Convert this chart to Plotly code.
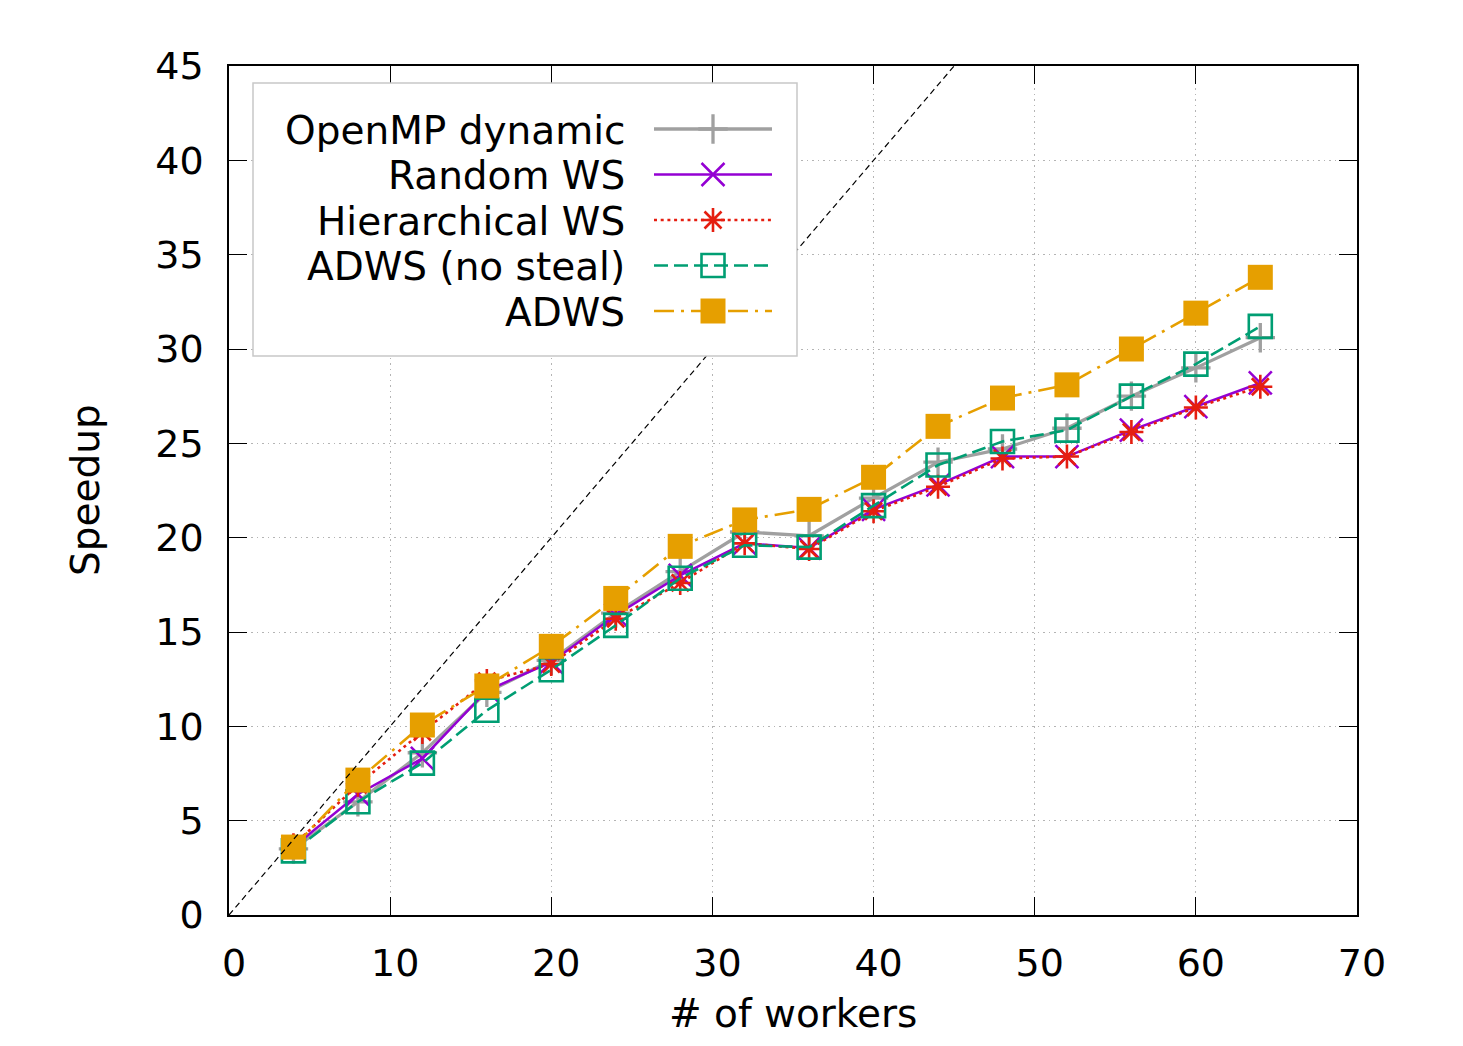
import plotly.graph_objects as go

# ---------------- data ----------------
workers = [4, 8, 12, 16, 20, 24, 28, 32, 36, 40, 44, 48, 52, 56, 60, 64]
openmp_dynamic = [3.5, 6.0, 8.6, 11.8, 13.5, 16.0, 18.2, 20.3, 20.1, 22.1, 24.0, 24.7, 25.8, 27.5, 29.0, 30.6]
random_ws = [3.6, 6.4, 8.3, 11.9, 13.4, 15.9, 18.0, 19.7, 19.45, 21.5, 22.8, 24.3, 24.3, 25.7, 26.95, 28.2]
hierarchical_ws = [3.7, 6.9, 9.7, 12.4, 13.3, 15.7, 17.6, 19.7, 19.4, 21.4, 22.7, 24.2, 24.3, 25.6, 26.9, 28.0]
adws_no_steal = [3.4, 6.0, 8.05, 10.85, 13.0, 15.35, 17.85, 19.6, 19.5, 21.7, 23.85, 25.1, 25.7, 27.5, 29.2, 31.2]
adws = [3.6, 7.15, 10.07, 12.14, 14.24, 16.78, 19.54, 20.94, 21.5, 23.2, 25.9, 27.4, 28.1, 30.0, 31.9, 33.8]

series_names = ["OpenMP dynamic", "Random WS", "Hierarchical WS", "ADWS (no steal)", "ADWS"]
x_ticks = [0, 10, 20, 30, 40, 50, 60, 70]
y_ticks = [0, 5, 10, 15, 20, 25, 30, 35, 40, 45]
x_title = "# of workers"
y_title = "Speedup"

# ---------------- styles ----------------
styles = [
    dict(color="#a0a0a0", width=3.3, dash="solid", symbol="cross-thin-open", size=21, mlw=3.3),
    dict(color="#9400D3", width=2.5, dash="solid", symbol="x-thin-open", size=23, mlw=2.5),
    dict(color="#E51E10", width=2.6, dash="3px,3.7px", symbol="asterisk-open", size=20, mlw=2.6),
    dict(color="#009E73", width=2.6, dash="14px,6px", symbol="square-open", size=23, mlw=2.6),
    dict(color="#E69F00", width=2.6, dash="20px,7px,3px,7px", symbol="square", size=25, mlw=0),
]
values = [openmp_dynamic, random_ws, hierarchical_ws, adws_no_steal, adws]

OFF = 8  # default body margin of the page
W, H = 1463 - 2 * OFF, 1046 - 2 * OFF
FONT = "DejaVu Sans"


def paper_x(p):
    return (p - OFF) / W


def paper_y(p):
    return 1 - (p - OFF) / H


PL, PR, PT, PB = 229, 1357, 66, 915

fig = go.Figure()

for name, vals, st in zip(series_names, values, styles):
    fig.add_trace(go.Scatter(
        x=workers, y=vals, name=name, mode="lines+markers",
        line=dict(color=st["color"], width=st["width"], dash=st["dash"]),
        marker=dict(symbol=st["symbol"], size=st["size"], color=st["color"],
                    line=dict(color=st["color"], width=st["mlw"])),
        showlegend=False, xaxis="x", yaxis="y",
    ))

# ideal speedup line y = x
fig.add_trace(go.Scatter(
    x=[0, y_ticks[-1]], y=[0, y_ticks[-1]], mode="lines",
    line=dict(color="black", width=1.2, dash="6px,4px"),
    showlegend=False, xaxis="x", yaxis="y",
))

# ---------------- custom (gnuplot-like) legend on pixel overlay ----------------
LEG_TEXT_X = 627
LEG_X0, LEG_XM, LEG_X1 = 654, 713, 772
LEG_ROWS = [129, 174.5, 220, 265.5, 311]

shapes = [dict(type="rect", xref="x2", yref="y2", x0=253, x1=797, y0=83, y1=356,
               fillcolor="white", line=dict(color="#c8c8c8", width=1.5), layer="below")]
annotations = []
for name, st, ry in zip(series_names, styles, LEG_ROWS):
    fig.add_trace(go.Scatter(
        x=[LEG_X0, LEG_X1], y=[ry, ry], mode="lines",
        line=dict(color=st["color"], width=st["width"], dash=st["dash"]),
        showlegend=False, xaxis="x2", yaxis="y2", hoverinfo="skip",
    ))
    fig.add_trace(go.Scatter(
        x=[LEG_XM], y=[ry], mode="markers",
        marker=dict(symbol=st["symbol"], size=st["size"], color=st["color"],
                    line=dict(color=st["color"], width=st["mlw"])),
        showlegend=False, xaxis="x2", yaxis="y2", hoverinfo="skip",
    ))
    annotations.append(dict(xref="x2", yref="y2", x=LEG_TEXT_X, y=ry + 1, text=name,
                            showarrow=False, xanchor="right", yanchor="middle",
                            font=dict(family=FONT, size=39, color="black")))

annotations.append(dict(xref="x2", yref="y2", x=85, y=490, text=y_title, textangle=-90,
                        showarrow=False, xanchor="center", yanchor="middle",
                        font=dict(family=FONT, size=39, color="black")))
annotations.append(dict(xref="x2", yref="y2", x=793, y=OFF + H - 1, text=x_title,
                        showarrow=False, xanchor="center", yanchor="bottom", borderpad=0,
                        font=dict(family=FONT, size=39, color="black")))

axis_common = dict(
    showline=True, linecolor="black", linewidth=1.5, mirror="ticks",
    ticks="inside", ticklen=18, tickwidth=1.3, tickcolor="black",
    showgrid=True, gridcolor="#b4b4b4", griddash="1.5px,4px", gridwidth=1.2,
    zeroline=False, tickfont=dict(family=FONT, size=38, color="black"),
    automargin=False,
)

fig.update_layout(
    width=W, height=H, margin=dict(l=0, r=0, t=0, b=0, pad=0, autoexpand=False),
    paper_bgcolor="white", plot_bgcolor="rgba(0,0,0,0)",
    showlegend=False,
    xaxis=dict(domain=[paper_x(PL), paper_x(PR)], range=[x_ticks[0], x_ticks[-1]],
               tickvals=x_ticks, ticklabelstandoff=14, ticklabelshift=5, anchor="y", **axis_common),
    yaxis=dict(domain=[paper_y(PB), paper_y(PT)], range=[y_ticks[0], y_ticks[-1]],
               tickvals=y_ticks, ticklabelstandoff=16, anchor="x", **axis_common),
    xaxis2=dict(domain=[0, 1], range=[OFF, OFF + W], visible=False, anchor="y2", automargin=False),
    yaxis2=dict(domain=[0, 1], range=[OFF + H, OFF], visible=False, anchor="x2", automargin=False),
    shapes=shapes, annotations=annotations,
)

fig.write_html("out.html")
